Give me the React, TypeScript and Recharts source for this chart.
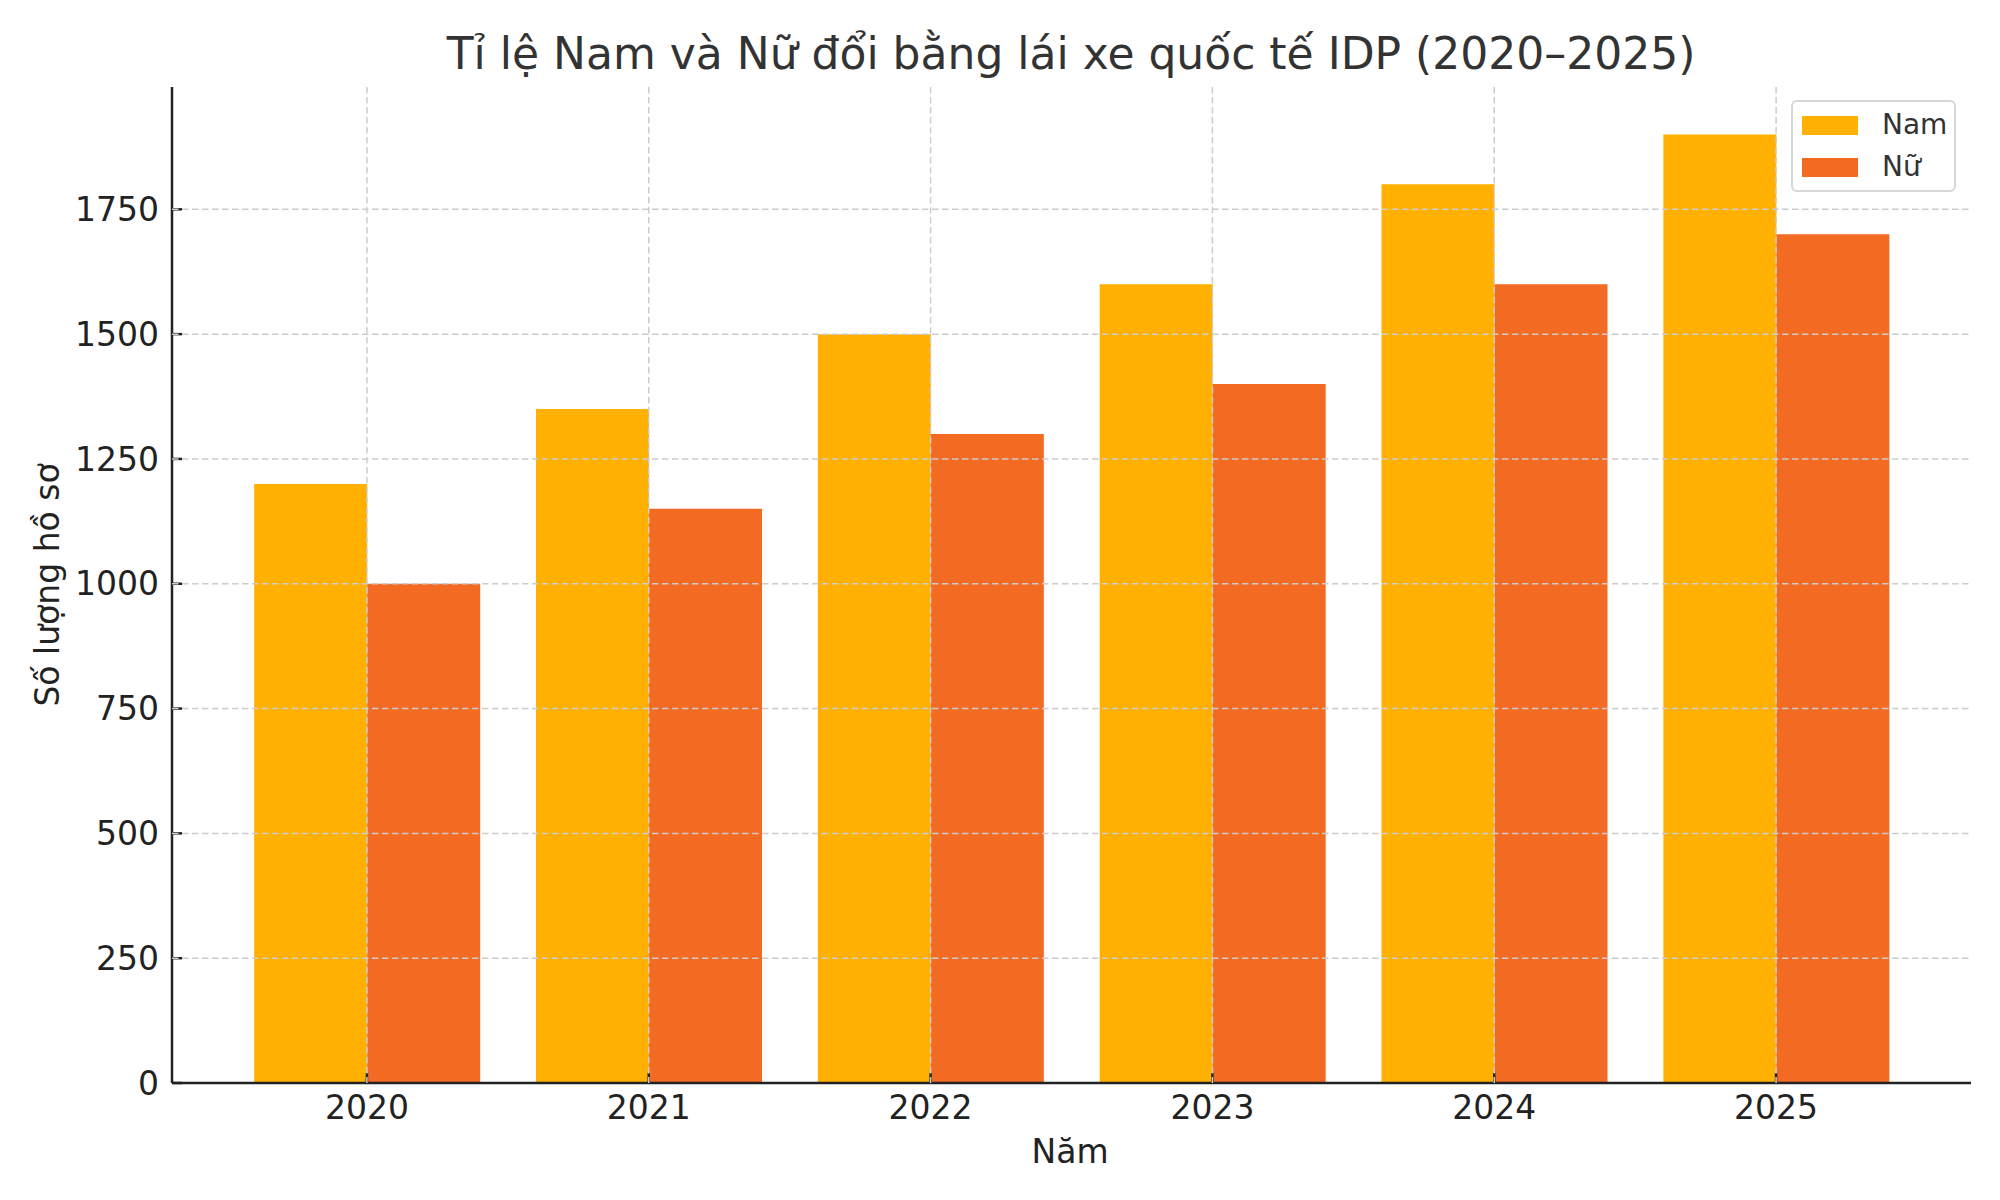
import {BarChart, Bar, XAxis, YAxis, CartesianGrid, Legend} from 'recharts';

const years = ['2020', '2021', '2022', '2023', '2024', '2025'];
const namValues = [1200, 1350, 1500, 1600, 1800, 1900];
const nuValues = [1000, 1150, 1300, 1400, 1600, 1700];
const yTicks = [0, 250, 500, 750, 1000, 1250, 1500, 1750];
const seriesNames = ['Nam', 'Nữ'];
const seriesColors = ['#FFB000', '#F36A22'];

const data = years.map((year, i) => ({
    year,
    nam: namValues[i],
    nu: nuValues[i],
}));

const FONT = "'DejaVu Sans', sans-serif";

// grid line that is skipped on the plot border (no frame in the original)
function gridLine(vertical: boolean) {
    return (p: any) => {
        const pos = vertical ? p.x1 : p.y1;
        const lo = vertical ? p.x : p.y;
        const hi = vertical ? p.x + p.width : p.y + p.height;
        if (Math.abs(pos - lo) < 1 || Math.abs(pos - hi) < 1) return <g key={p.key}/>;
        return <line key={p.key} x1={p.x1} y1={p.y1} x2={p.x2} y2={p.y2}
                     stroke="#cccccc" strokeWidth={1.5} strokeDasharray="6.5 3.5"/>;
    };
}

function LegendBox(props: any) {
    const items = props.payload && props.payload.length
        ? props.payload
        : seriesNames.map((n, i) => ({value: n, color: seriesColors[i]}));
    return (
        <div style={{
            position: 'relative', width: 165, height: 92, boxSizing: 'border-box',
            border: '2px solid #d6d6d6', borderRadius: 6, background: '#fff', fontFamily: FONT,
        }}>
            {items.map((it: any, i: number) => (
                <div key={it.value} style={{
                    position: 'absolute', left: 0, top: 2 + i * 42, height: 42,
                    display: 'flex', alignItems: 'center',
                }}>
                    <div style={{width: 56, height: 19, marginLeft: 9, background: it.color}}/>
                    <span style={{marginLeft: 24, fontSize: 28, color: '#333', lineHeight: '42px'}}>{it.value}</span>
                </div>
            ))}
        </div>
    );
}

export default function App() {
    return (
        <div style={{position: 'absolute', left: 0, top: 0, width: 2000, height: 1200, background: '#fff', fontFamily: FONT}}>
            <BarChart width={2000} height={1200} data={data}
                      margin={{top: 87, right: 29, bottom: 0, left: 0}}
                      barCategoryGap="10%" barGap={0}>
                <XAxis dataKey="year" height={117} padding={{left: 54, right: 54}}
                       axisLine={{stroke: '#222', strokeWidth: 2.5}}
                       tickLine={{stroke: '#222', strokeWidth: 2.5}}
                       tickSize={-10} tickMargin={23}
                       tick={{fill: '#222', fontSize: 33}}/>
                <YAxis width={172} domain={[0, 1995]} ticks={yTicks} allowDataOverflow
                       axisLine={{stroke: '#222', strokeWidth: 2.5}}
                       tickLine={{stroke: '#222', strokeWidth: 2.5}}
                       tickSize={-10} tickMargin={23}
                       tick={{fill: '#222', fontSize: 33}}/>
                <Bar dataKey="nam" name={seriesNames[0]} fill={seriesColors[0]} isAnimationActive={false}/>
                <Bar dataKey="nu" name={seriesNames[1]} fill={seriesColors[1]} isAnimationActive={false}/>
                <CartesianGrid stroke="#cccccc" strokeWidth={1.5} strokeDasharray="6.5 3.5" zIndex={1000}
                               horizontal={gridLine(false)} vertical={gridLine(true)}/>
                <Legend layout="vertical" align="center" verticalAlign="middle"
                        wrapperStyle={{position: 'absolute', left: 1791, top: 100, width: 165, height: 92}}
                        content={<LegendBox/>}/>
                <text x={1071} y={69} textAnchor="middle" fontSize={44} fill="#333" fontFamily={FONT}>
                    Tỉ lệ Nam và Nữ đổi bằng lái xe quốc tế IDP (2020–2025)
                </text>
                <text x={1070} y={1163} textAnchor="middle" fontSize={33} fill="#222" fontFamily={FONT}>
                    Năm
                </text>
                <text x={59} y={585} textAnchor="middle" fontSize={33} fill="#222" fontFamily={FONT}
                      transform="rotate(-90 59 585)">
                    Số lượng hồ sơ
                </text>
            </BarChart>
        </div>
    );
}
